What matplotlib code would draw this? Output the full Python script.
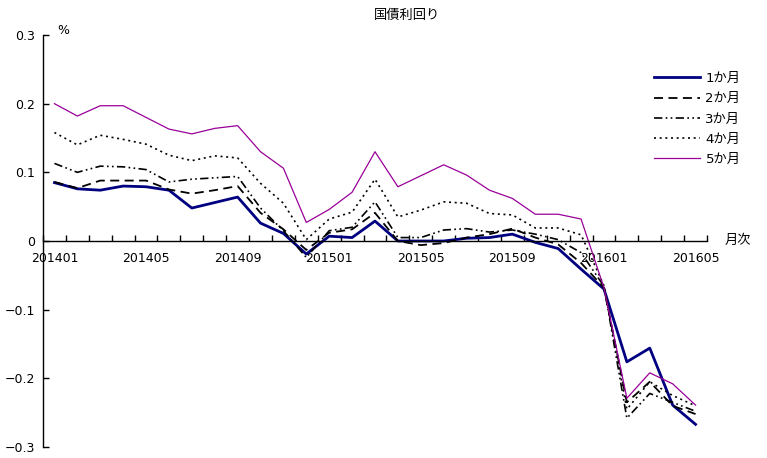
import matplotlib
matplotlib.use('Agg')
import matplotlib.pyplot as plt
import numpy as np

# -----------------------Data-----------------------
months = [f'{y}{m:02d}' for y in (2014, 2015, 2016) for m in range(1, 13)][:29]  # 201401 .. 201605

m1 = [0.085, 0.076, 0.074, 0.080, 0.079, 0.074, 0.048, 0.056, 0.064, 0.026,
      0.011, -0.019, 0.007, 0.005, 0.029, 0.000, 0.000, 0.000, 0.004, 0.005,
      0.010, -0.002, -0.011, -0.041, -0.070, -0.176, -0.156, -0.239, -0.267]
m2 = [0.086, 0.077, 0.088, 0.088, 0.088, 0.075, 0.069, 0.074, 0.080, 0.041,
      0.017, -0.013, 0.012, 0.017, 0.041, 0.000, -0.006, -0.003, 0.005, 0.010,
      0.018, 0.005, -0.005, -0.032, -0.068, -0.235, -0.205, -0.240, -0.252]
m3 = [0.113, 0.100, 0.109, 0.108, 0.104, 0.086, 0.090, 0.092, 0.094, 0.048,
      0.015, -0.024, 0.015, 0.020, 0.057, 0.005, 0.005, 0.016, 0.018, 0.013,
      0.016, 0.010, 0.002, -0.017, -0.066, -0.258, -0.222, -0.235, -0.248]
m4 = [0.158, 0.140, 0.154, 0.148, 0.141, 0.125, 0.117, 0.124, 0.121, 0.084,
      0.055, 0.002, 0.032, 0.042, 0.090, 0.035, 0.045, 0.057, 0.055, 0.040,
      0.038, 0.019, 0.019, 0.009, -0.065, -0.245, -0.205, -0.225, -0.240]
m5 = [0.200, 0.182, 0.197, 0.197, 0.180, 0.163, 0.156, 0.164, 0.168, 0.130,
      0.106, 0.027, 0.046, 0.071, 0.130, 0.079, 0.095, 0.111, 0.096, 0.074,
      0.062, 0.039, 0.039, 0.032, -0.068, -0.229, -0.192, -0.208, -0.239]

labels = ['1か月', '2か月', '3か月', '4か月', '5か月']
yticks = [-0.3, -0.2, -0.1, 0, 0.1, 0.2, 0.3]
ytick_labels = ['\u22120.3', '\u22120.2', '\u22120.1', '0', '0.1', '0.2', '0.3']

# -----------------------Fig configuration-----------------------
plt.rcParams['font.family'] = ['DejaVu Sans', 'Noto Sans CJK JP']
num_size = 9
text_size = 9.5
navy = '#000080'
purple = '#990099'
black = '#000000'

fig = plt.figure(figsize=(7.67, 4.58), dpi=100)
ax = fig.add_axes([43 / 767, 11 / 458, 664 / 767, 412 / 458])

# -----------------------Plot-----------------------
x = np.arange(len(months))
ax.plot(x, m1, color=navy, linewidth=2.0, label=labels[0])
ax.plot(x, m2, color=black, linewidth=1.3, linestyle=(0, (5, 3)), label=labels[1])
ax.plot(x, m3, color=black, linewidth=1.2, linestyle=(0, (5, 2, 1, 2, 1, 2)), label=labels[2])
ax.plot(x, m4, color=black, linewidth=1.2, linestyle=(0, (1.2, 2.2)), label=labels[3])
ax.plot(x, m5, color=purple, linewidth=0.9, label=labels[4])

ax.set_xlim(-0.5, len(months) - 0.5)
ax.set_ylim(-0.3, 0.3)

# axes styling: x axis crossing at zero, y axis on the left
for s in ['top', 'right']:
    ax.spines[s].set_visible(False)
ax.spines['bottom'].set_position(('data', 0))
ax.spines['bottom'].set_linewidth(1.0)
ax.spines['left'].set_linewidth(1.0)
ax.set_axisbelow(True)

ax.set_xticks(x[::4])
ax.set_xticklabels(months[::4], fontsize=num_size)
ax.set_xticks(np.arange(-0.5, len(months), 1), minor=True)
ax.tick_params(axis='x', which='major', length=0, pad=8)
ax.tick_params(axis='x', which='minor', direction='in', length=4, width=1)

ax.set_yticks(yticks)
ax.set_yticklabels(ytick_labels, fontsize=num_size)
ax.tick_params(axis='y', direction='in', length=4, width=1, pad=6)

fig.text(63 / 767, 1 - 30 / 458, '%', fontsize=num_size, ha='center', va='center')
fig.text(738 / 767, 1 - 240 / 458, '月次', fontsize=text_size, ha='center', va='center')
fig.text(407 / 767, 1 - 15 / 458, '国債利回り', fontsize=text_size, ha='center', va='center')

ax.legend(fontsize=text_size, frameon=False, loc='upper left',
          bbox_to_anchor=(654 / 767, 1 - 72 / 458), bbox_transform=fig.transFigure,
          handlelength=3.5, handletextpad=0.4, labelspacing=0.55, borderaxespad=0, borderpad=0)

plt.savefig('out.png', dpi=100)
